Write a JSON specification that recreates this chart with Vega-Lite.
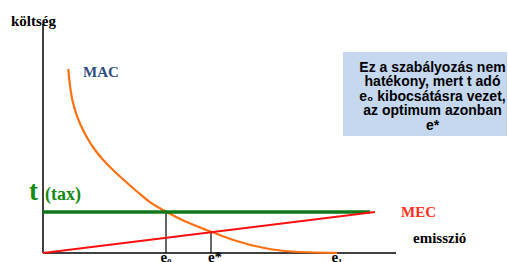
{
  "$schema": "https://vega.github.io/schema/vega-lite/v6.json",
  "width": 508,
  "height": 262,
  "padding": 0,
  "autosize": {"type": "none"},
  "background": "white",
  "config": {"view": {"stroke": null}},
  "datasets": {
    "lines": [
      {"series": "yaxis", "x": 0, "y": 0},
      {"series": "yaxis", "x": 0, "y": 22.9},
      {"series": "xaxis", "x": 0, "y": 0},
      {"series": "xaxis", "x": 35.3, "y": 0},
      {"series": "tax", "x": 0, "y": 4.1},
      {"series": "tax", "x": 32.7, "y": 4.1},
      {"series": "MEC", "x": 0, "y": 0},
      {"series": "MEC", "x": 33.2, "y": 4.1},
      {"series": "MAC", "x": 2.53, "y": 18.4},
      {"series": "MAC", "x": 2.63, "y": 17.3},
      {"series": "MAC", "x": 2.87, "y": 15.65},
      {"series": "MAC", "x": 3.2, "y": 14.3},
      {"series": "MAC", "x": 3.7, "y": 12.95},
      {"series": "MAC", "x": 4.37, "y": 11.6},
      {"series": "MAC", "x": 5.2, "y": 10.3},
      {"series": "MAC", "x": 6.03, "y": 9.3},
      {"series": "MAC", "x": 7.0, "y": 8.3},
      {"series": "MAC", "x": 8.0, "y": 7.38},
      {"series": "MAC", "x": 9.4, "y": 6.15},
      {"series": "MAC", "x": 10.7, "y": 5.08},
      {"series": "MAC", "x": 12.37, "y": 4.1},
      {"series": "MAC", "x": 14.03, "y": 3.25},
      {"series": "MAC", "x": 15.7, "y": 2.55},
      {"series": "MAC", "x": 16.87, "y": 2.1},
      {"series": "MAC", "x": 19.03, "y": 1.3},
      {"series": "MAC", "x": 22.37, "y": 0.45},
      {"series": "MAC", "x": 25.7, "y": 0.1},
      {"series": "MAC", "x": 29.4, "y": 0.02}
    ],
    "drops": [
      {"point": "e0", "x": 12.3, "ylow": 0, "y": 4.1},
      {"point": "e*", "x": 16.8, "ylow": 0, "y": 2.08}
    ]
  },
  "layer": [
    {
      "data": {"values": [{"x": 30.0, "x2": 46.4, "y": 20.1, "y2": 11.7}]},
      "mark": {"type": "rect", "color": "#c6d8f0"},
      "encoding": {
        "x": {"field": "x", "type": "quantitative", "scale": {"domain": [-4.3, 46.5], "nice": false, "zero": false}, "axis": null},
        "x2": {"field": "x2"},
        "y": {"field": "y", "type": "quantitative", "scale": {"domain": [-0.9, 25.3], "nice": false, "zero": false}, "axis": null},
        "y2": {"field": "y2"}
      }
    },
    {
      "data": {"name": "drops"},
      "mark": {"type": "rule", "color": "black", "strokeWidth": 1.2},
      "encoding": {
        "x": {"field": "x", "type": "quantitative"},
        "y": {"field": "ylow", "type": "quantitative"},
        "y2": {"field": "y"}
      }
    },
    {
      "data": {"name": "lines"},
      "transform": [{"filter": "datum.series === 'xaxis' || datum.series === 'yaxis'"}],
      "mark": {"type": "line", "color": "black", "strokeWidth": 1.5},
      "encoding": {
        "x": {"field": "x", "type": "quantitative"},
        "y": {"field": "y", "type": "quantitative"},
        "detail": {"field": "series", "type": "nominal"}
      }
    },
    {
      "data": {"name": "lines"},
      "transform": [{"filter": "datum.series === 'MAC'"}],
      "mark": {"type": "line", "color": "#ff7010", "strokeWidth": 2.2, "interpolate": "monotone"},
      "encoding": {
        "x": {"field": "x", "type": "quantitative"},
        "y": {"field": "y", "type": "quantitative"}
      }
    },
    {
      "data": {"name": "lines"},
      "transform": [{"filter": "datum.series === 'tax'"}],
      "mark": {"type": "line", "color": "#10781a", "strokeWidth": 3.5},
      "encoding": {
        "x": {"field": "x", "type": "quantitative"},
        "y": {"field": "y", "type": "quantitative"}
      }
    },
    {
      "data": {"name": "lines"},
      "transform": [{"filter": "datum.series === 'MEC'"}],
      "mark": {"type": "line", "color": "#ff1010", "strokeWidth": 1.8},
      "encoding": {
        "x": {"field": "x", "type": "quantitative"},
        "y": {"field": "y", "type": "quantitative"}
      }
    },
    {
      "data": {"values": [{"label": "költség", "x": -3.2, "y": 22.7}, {"label": "emisszió", "x": 37.0, "y": 1.0}]},
      "mark": {"type": "text", "font": "Liberation Serif", "fontWeight": "bold", "fontSize": 15, "color": "black", "align": "left", "baseline": "alphabetic"},
      "encoding": {
        "x": {"field": "x", "type": "quantitative"},
        "y": {"field": "y", "type": "quantitative"},
        "text": {"field": "label", "type": "nominal"}
      }
    },
    {
      "data": {"values": [{"label": "MAC", "x": 4.0, "y": 17.6}]},
      "mark": {"type": "text", "font": "Liberation Serif", "fontWeight": "bold", "fontSize": 15, "color": "#2d4f82", "align": "left", "baseline": "alphabetic"},
      "encoding": {
        "x": {"field": "x", "type": "quantitative"},
        "y": {"field": "y", "type": "quantitative"},
        "text": {"field": "label", "type": "nominal"}
      }
    },
    {
      "data": {"values": [{"label": "MEC", "x": 35.8, "y": 3.6}]},
      "mark": {"type": "text", "font": "Liberation Serif", "fontWeight": "bold", "fontSize": 15, "color": "#ff3020", "align": "left", "baseline": "alphabetic"},
      "encoding": {
        "x": {"field": "x", "type": "quantitative"},
        "y": {"field": "y", "type": "quantitative"},
        "text": {"field": "label", "type": "nominal"}
      }
    },
    {
      "data": {"values": [{"label": "t", "x": -1.4, "y": 5.3}]},
      "mark": {"type": "text", "font": "Liberation Serif", "fontWeight": "bold", "fontSize": 27, "color": "#138a13", "align": "left", "baseline": "alphabetic"},
      "encoding": {
        "x": {"field": "x", "type": "quantitative"},
        "y": {"field": "y", "type": "quantitative"},
        "text": {"field": "label", "type": "nominal"}
      }
    },
    {
      "data": {"values": [{"label": "(tax)", "x": 0.2, "y": 5.3}]},
      "mark": {"type": "text", "font": "Liberation Serif", "fontWeight": "bold", "fontSize": 18, "color": "#138a13", "align": "left", "baseline": "alphabetic"},
      "encoding": {
        "x": {"field": "x", "type": "quantitative"},
        "y": {"field": "y", "type": "quantitative"},
        "text": {"field": "label", "type": "nominal"}
      }
    },
    {
      "data": {"values": [{"label": "e₀", "x": 12.3, "y": -0.85}, {"label": "e*", "x": 17.2, "y": -0.85}, {"label": "e₁", "x": 29.4, "y": -0.85}]},
      "mark": {"type": "text", "font": "Liberation Serif", "fontWeight": "bold", "fontSize": 15, "color": "black", "align": "center", "baseline": "alphabetic"},
      "encoding": {
        "x": {"field": "x", "type": "quantitative"},
        "y": {"field": "y", "type": "quantitative"},
        "text": {"field": "label", "type": "nominal"}
      }
    },
    {
      "data": {"values": [{"label": "Ez a szabályozás nem\nhatékony, mert t adó\ne₀ kibocsátásra vezet,\naz optimum azonban\ne*", "x": 38.95, "y": 19.2}]},
      "mark": {"type": "text", "font": "Liberation Sans", "fontWeight": "bold", "fontSize": 14, "color": "black", "align": "center", "baseline": "top", "lineBreak": "\n", "lineHeight": 14.4},
      "encoding": {
        "x": {"field": "x", "type": "quantitative"},
        "y": {"field": "y", "type": "quantitative"},
        "text": {"field": "label", "type": "nominal"}
      }
    }
  ]
}
